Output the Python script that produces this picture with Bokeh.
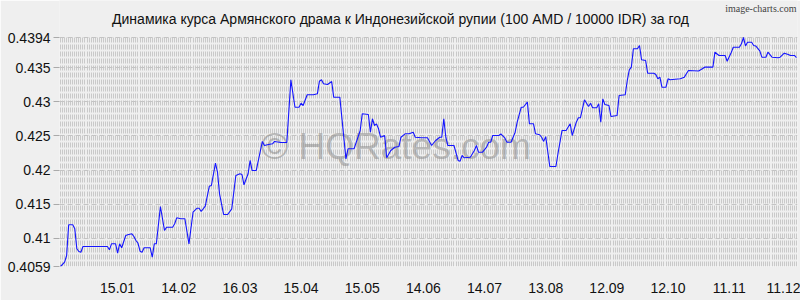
import pandas as pd
from bokeh.plotting import figure
from bokeh.models import Range1d, FixedTicker, SingleIntervalTicker, Label, BoxAnnotation
from bokeh.embed import file_html
from bokeh.resources import INLINE

# ---- data ----
start_date = "2024-12-18"
day_offsets = [
    0, 2, 3, 4, 6, 7, 8, 9, 10, 11, 23, 24, 25, 27, 28, 29, 30, 32, 33, 35,
    36, 37, 38, 39, 40, 41, 44, 45, 46, 47, 49, 51, 52, 55, 56, 57, 59, 61, 63, 65,
    67, 68, 69, 71, 73, 74, 76, 77, 78, 80, 82, 84, 86, 88, 89, 90, 92, 93, 94, 96,
    99, 100, 102, 104, 105, 108, 111, 113, 115, 117, 118, 119, 121, 124, 126, 127, 128, 129, 131, 133,
    134, 137, 140, 141, 144, 147, 148, 151, 152, 153, 154, 155, 156, 157, 159, 160, 162, 164, 166, 167,
    169, 171, 173, 174, 177, 180, 182, 184, 186, 187, 188, 189, 190, 193, 195, 196, 197, 198, 201, 203,
    204, 205, 207, 209, 210, 211, 212, 215, 216, 218, 219, 221, 223, 224, 226, 227, 229, 230, 232, 233,
    235, 236, 237, 238, 240, 243, 244, 246, 248, 250, 251, 253, 254, 255, 257, 259, 260, 261, 263, 264,
    265, 266, 267, 269, 270, 273, 274, 277, 278, 279, 280, 281, 283, 284, 285, 287, 288, 291, 292, 293,
    294, 295, 297, 298, 299, 304, 306, 307, 308, 313, 314, 316, 320, 321, 323, 326, 327, 329, 330, 333,
    334, 335, 336, 337, 339, 340, 341, 343, 344, 346, 347, 349, 352, 353, 355, 357, 358, 360, 361,
]
rates = [
    0.4059, 0.40653, 0.40751, 0.4120, 0.4120, 0.41141, 0.40849, 0.40809, 0.40799, 0.40883,
    0.40883, 0.40834, 0.40922, 0.40922, 0.40785, 0.40922, 0.40864, 0.41043, 0.41054, 0.41068,
    0.41029, 0.40970, 0.40931, 0.40814, 0.40799, 0.40864, 0.40864, 0.40726, 0.40922, 0.40922,
    0.41468, 0.41117, 0.41165, 0.41165, 0.41215, 0.41302, 0.41288, 0.41288, 0.40922, 0.41384,
    0.41443, 0.41443, 0.41395, 0.41472, 0.41765, 0.41775, 0.42101, 0.41969, 0.41653, 0.41351,
    0.41351, 0.41434, 0.41921, 0.41946, 0.41936, 0.41785, 0.41946, 0.42141, 0.41994, 0.41994,
    0.42419, 0.42360, 0.42375, 0.42385, 0.42419, 0.42404, 0.42404, 0.43321, 0.42920, 0.42920,
    0.42979, 0.42945, 0.43102, 0.43102, 0.43116, 0.43301, 0.43321, 0.43263, 0.43252, 0.43296,
    0.43067, 0.43067, 0.42165, 0.42312, 0.42312, 0.42580, 0.42824, 0.42814, 0.42555, 0.42751,
    0.42653, 0.42677, 0.42604, 0.42481, 0.42506, 0.42180, 0.42287, 0.42335, 0.42345, 0.42481,
    0.42531, 0.42531, 0.42555, 0.42481, 0.42473, 0.42473, 0.42360, 0.42433, 0.42481, 0.42481,
    0.42751, 0.42481, 0.42360, 0.42360, 0.42141, 0.42131, 0.42214, 0.42180, 0.42189, 0.42287,
    0.42360, 0.42262, 0.42262, 0.42335, 0.42408, 0.42408, 0.42506, 0.42506, 0.42531, 0.42467,
    0.42408, 0.42408, 0.42555, 0.42701, 0.42920, 0.42920, 0.42994, 0.42678, 0.42678, 0.42531,
    0.42517, 0.42481, 0.42420, 0.42490, 0.42053, 0.42053, 0.42239, 0.42580, 0.42580, 0.42678,
    0.42506, 0.42701, 0.42765, 0.42765, 0.43029, 0.42931, 0.42979, 0.42912, 0.42912, 0.42970,
    0.42701, 0.43043, 0.42960, 0.42945, 0.42784, 0.42799, 0.43092, 0.43102, 0.43311, 0.43467,
    0.43506, 0.43775, 0.43775, 0.43823, 0.43614, 0.43604, 0.43418, 0.43418, 0.43399, 0.43336,
    0.43360, 0.43213, 0.43213, 0.43336, 0.43321, 0.43336, 0.43360, 0.43409, 0.43457, 0.43450,
    0.43467, 0.43506, 0.43506, 0.43725, 0.43677, 0.43677, 0.43593, 0.43721, 0.43798, 0.43798,
    0.43848, 0.43940, 0.43816, 0.43871, 0.43871, 0.43823, 0.43816, 0.43745, 0.43652, 0.43652,
    0.43725, 0.43652, 0.43643, 0.43652, 0.43710, 0.43691, 0.43677, 0.43677, 0.43647,
]
x_tick_dates = ["2025-01-15", "2025-02-14", "2025-03-16", "2025-04-15", "2025-05-15", "2025-06-14",
                "2025-07-14", "2025-08-13", "2025-09-12", "2025-10-12", "2025-11-11", "2025-12-11"]
x_tick_labels = ["15.01", "14.02", "16.03", "15.04", "15.05", "14.06",
                 "14.07", "13.08", "12.09", "12.10", "11.11", "11.12"]
y_ticks = [0.4059, 0.41, 0.415, 0.42, 0.425, 0.43, 0.435, 0.4394]
y_tick_labels = ["0.4059", "0.41", "0.415", "0.42", "0.425", "0.43", "0.435", "0.4394"]

title_text = "Динамика курса Армянского драма к Индонезийской рупии (100 AMD / 10000 IDR) за год"
credit_text = "image-charts.com"
watermark_text = "© HQRates.com"

# ---- layout constants (pixels) ----
W, H = 800, 300
LEFT, RIGHT, BOTTOM = 59, 3, 34
PLOT_TOP = 37            # pixel row of the top value of the data area
frame_w = W - LEFT - RIGHT
frame_h = H - BOTTOM     # frame reaches the top edge; header area is masked

# ---- derived ----
start = pd.Timestamp(start_date)
x_ticks = [int((pd.Timestamp(d) - start).days) for d in x_tick_dates]
last_day = max(day_offsets)
x0, x1 = -0.5, last_day + 0.5
y_lo, y_hi = min(y_ticks), max(y_ticks)
unit_per_px_y = (y_hi - y_lo) / (frame_h - PLOT_TOP)
unit_per_px_x = (x1 - x0) / frame_w
y_top = y_hi + PLOT_TOP * unit_per_px_y


def px_to_x(px):
    return x0 + (px - LEFT) * unit_per_px_x


def py_to_y(py):
    return y_top - py * unit_per_px_y


FONT = "Liberation Sans"
BG = "#efefef"

p = figure(width=W, height=H, output_backend="svg", toolbar_location=None,
           x_range=Range1d(x0, x1), y_range=Range1d(y_lo, y_top),
           min_border_left=LEFT, min_border_right=RIGHT, min_border_top=0,
           min_border_bottom=BOTTOM)
p.background_fill_color = BG
p.border_fill_color = BG
p.outline_line_color = None

# axes
p.xaxis.ticker = FixedTicker(ticks=x_ticks)
p.xaxis.major_label_overrides = {t: l for t, l in zip(x_ticks, x_tick_labels)}
p.xaxis.axis_line_color = None
p.xaxis.major_tick_line_color = None
p.xaxis.minor_tick_line_color = None
p.xaxis.major_label_standoff = 10
p.xaxis.major_label_text_font = FONT
p.xaxis.major_label_text_font_size = "14px"
p.xaxis.major_label_text_color = "#111111"

p.yaxis.ticker = FixedTicker(ticks=y_ticks)
p.yaxis.major_label_overrides = {t: l for t, l in zip(y_ticks, y_tick_labels)}
p.yaxis.axis_line_color = None
p.yaxis.major_tick_in = 0
p.yaxis.major_tick_out = 6
p.yaxis.major_tick_line_color = "#aaaaaa"
p.yaxis.minor_tick_line_color = None
p.yaxis.major_label_standoff = 3
p.yaxis.major_label_text_font = FONT
p.yaxis.major_label_text_font_size = "14px"
p.yaxis.major_label_text_color = "#111111"

# grids
p.xgrid.ticker = SingleIntervalTicker(interval=1, num_minor_ticks=0)
p.xgrid.grid_line_color = "#c9c9c9"
p.xgrid.grid_line_width = 1
p.xgrid.grid_line_dash = "5 2"
p.ygrid.ticker = FixedTicker(ticks=y_ticks)
p.ygrid.grid_line_color = "#c4c4c4"
p.ygrid.grid_line_dash = "5 3"

# watermark (under the line)
wm = Label(x=164.5, y=0.4235, text=watermark_text, text_align="center", text_baseline="middle",
           text_font=FONT, text_font_size="37px", text_color="#8c8c8c", text_alpha=0.55,
           level="underlay")
p.add_layout(wm)

p.line(day_offsets, rates, line_color="#1414ff", line_width=1.1)

# header area: mask the grid above the data area, then the texts
mask = BoxAnnotation(bottom=y_hi + 0.7 * unit_per_px_y, fill_color=BG, fill_alpha=1.0,
                     line_color=None)
p.add_layout(mask)

title = Label(x=px_to_x(W / 2), y=py_to_y(18), text=title_text, text_align="center",
              text_baseline="middle", text_font=FONT, text_font_size="14px",
              text_color="#111111")
p.add_layout(title)

credit = Label(x=px_to_x(W - 4), y=py_to_y(8), text=credit_text, text_align="right",
               text_baseline="middle", text_font="Liberation Sans Narrow",
               text_font_size="10px", text_color="#444444")
p.add_layout(credit)

open("out.html", "w").write(file_html(p, INLINE))
